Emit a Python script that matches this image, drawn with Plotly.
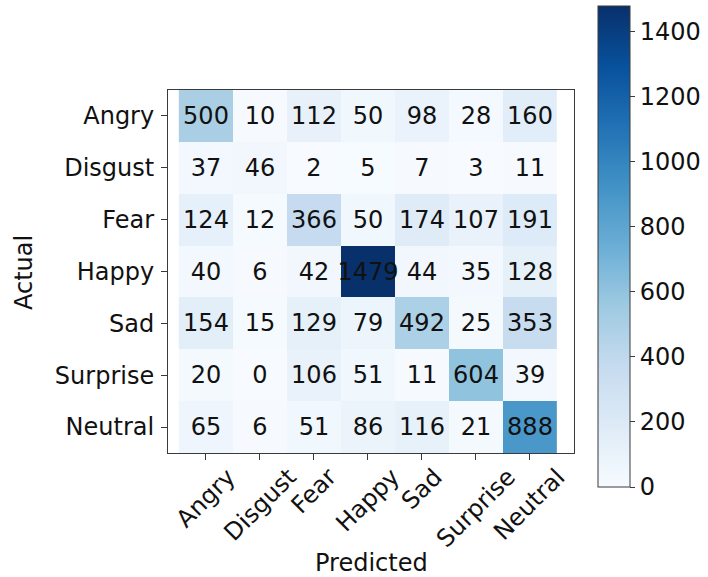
import plotly.graph_objects as go

# Emotion classes (rows = actual, columns = predicted)
classes = ["Angry", "Disgust", "Fear", "Happy", "Sad", "Surprise", "Neutral"]

row_angry = [500, 10, 112, 50, 98, 28, 160]
row_disgust = [37, 46, 2, 5, 7, 3, 11]
row_fear = [124, 12, 366, 50, 174, 107, 191]
row_happy = [40, 6, 42, 1479, 44, 35, 128]
row_sad = [154, 15, 129, 79, 492, 25, 353]
row_surprise = [20, 0, 106, 51, 11, 604, 39]
row_neutral = [65, 6, 51, 86, 116, 21, 888]

matrix = [row_angry, row_disgust, row_fear, row_happy, row_sad, row_surprise, row_neutral]
cbar_ticks = [0, 200, 400, 600, 800, 1000, 1200, 1400]

FONT = "DejaVu Sans"
FS = 24
INK = "#111111"
EDGE = "#3a3a3a"

W, H = 708, 577
L, R, T, B = 168, 134, 90, 124
plot_w = W - L - R
plot_h = H - T - B

fig = go.Figure(
    go.Heatmap(
        z=matrix,
        x=classes,
        y=classes,
        colorscale="Blues",
        zmin=0,
        zmax=max(max(r) for r in matrix),
        texttemplate="%{z}",
        textfont=dict(family=FONT, size=FS, color=INK),
        hoverinfo="skip",
        colorbar=dict(
            x=(598 - L) / plot_w,
            xanchor="left",
            thickness=32,
            len=481,
            lenmode="pixels",
            y=(H - B - 246.5) / plot_h,
            yanchor="middle",
            outlinewidth=1,
            outlinecolor=EDGE,
            tickvals=cbar_ticks,
            ticks="outside",
            ticklen=5,
            tickcolor=EDGE,
            tickfont=dict(family=FONT, size=FS, color=INK),
            xpad=0,
            ypad=0,
        ),
    )
)

axis_common = dict(
    showline=True,
    linecolor=EDGE,
    linewidth=1,
    mirror=True,
    ticks="outside",
    ticklen=6,
    tickcolor=EDGE,
    showgrid=False,
    zeroline=False,
    tickfont=dict(family=FONT, size=FS, color=INK),
)

# x labels are drawn as rotated annotations centred under each tick
fig.update_xaxes(**axis_common, showticklabels=False)
fig.update_yaxes(**axis_common, autorange="reversed", ticklabelstandoff=2)

annotations = []
for name in classes:
    annotations.append(
        dict(
            x=name,
            y=0,
            xref="x",
            yref="paper",
            text=name,
            showarrow=False,
            textangle=-45,
            xanchor="center",
            yanchor="top",
            yshift=-7,
            font=dict(family=FONT, size=FS, color=INK),
        )
    )

# axis titles
annotations.append(
    dict(
        x=0.5, y=(H - B - 563) / plot_h, xref="paper", yref="paper",
        text="Predicted", showarrow=False,
        xanchor="center", yanchor="middle",
        font=dict(family=FONT, size=FS, color=INK),
    )
)
annotations.append(
    dict(
        x=(24 - L) / plot_w, y=(H - B - 273) / plot_h, xref="paper", yref="paper",
        text="Actual", showarrow=False, textangle=-90,
        xanchor="center", yanchor="middle",
        font=dict(family=FONT, size=FS, color=INK),
    )
)

fig.update_layout(
    width=W,
    height=H,
    margin=dict(l=L, r=R, t=T, b=B, autoexpand=False),
    paper_bgcolor="white",
    plot_bgcolor="white",
    annotations=annotations,
)

fig.write_html("out.html")
